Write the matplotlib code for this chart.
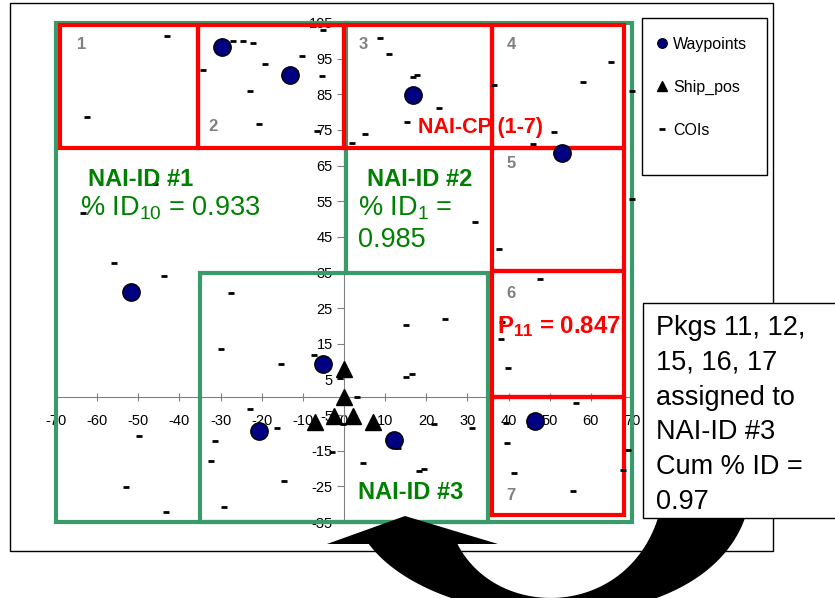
import numpy as np
import matplotlib
matplotlib.use('Agg')
import matplotlib.pyplot as plt
import matplotlib.transforms as mtransforms
from matplotlib.patches import Rectangle, Polygon
from matplotlib.lines import Line2D

plt.rcParams['font.family'] = ['Liberation Sans', 'DejaVu Sans']
plt.rcParams['axes.unicode_minus'] = False

# --- values ---
wp_x = [-29.7, -13.1, 16.8, 53.0, -51.8, -5.1, -20.7, 12.2, 46.4]
wp_y = [98.3, 90.4, 84.8, 68.5, 29.5, 9.3, -9.6, -12.1, -6.7]

ship_x = [0.0, 0.0, -2.4, 2.2, -7.0, 7.0]
ship_y = [7.9, 0.0, -5.3, -5.3, -7.0, -7.0]

coi_x = [-43.0, -62.5, -27.0, -24.6, -22.1, -34.3, -19.2, -10.2, -11.9, -22.8,
         -5.3, -5.1, -20.7, -6.6, 8.8, 10.9, 17.7, 16.8, 17.7, 23.1,
         15.3, 5.1, 1.9, 64.9, 58.1, 51.0, 45.9, 36.5, 70.0, -45.9,
         -63.4, -55.9, -43.8, 31.8, 37.7, 70.0, -52.7, -27.5, -29.9, -15.3,
         -7.3, -4.4, -22.8, 47.6, 15.1, 24.6, 38.4, 38.2, 39.9, 15.1,
         16.5, 3.2, 56.4, -16.3, -49.8, -31.4, -32.3, -53.0, -14.6, -43.3,
         -29.2, -2.9, 13.1, 4.6, 18.2, 19.4, 31.1, 21.9, 39.6, 41.3,
         55.7, 69.0, 67.8, 39.4, 45.2, -1.0, -0.2]
coi_y = [101.4, 78.7, 100.0, 100.0, 99.4, 91.9, 93.5, 95.8, 91.6, 86.0,
         90.2, 103.1, 76.7, 74.7, 100.8, 96.3, 90.4, 89.9, 84.8, 81.2,
         77.2, 73.9, 71.3, 94.1, 88.5, 74.4, 71.1, 87.6, 86.0, 59.8,
         51.7, 37.6, 34.0, 49.2, 41.6, 55.6, 28.9, 29.2, 13.5, 9.3,
         11.8, 8.7, -3.4, 33.1, 20.2, 21.9, 21.1, 16.3, 8.1, 5.6,
         6.5, 0.0, -1.7, -8.7, -11.0, -12.4, -18.0, -25.3, -23.6, -32.3,
         -30.9, -15.4, -14.3, -18.5, -20.8, -20.2, -8.7, -7.6, -12.9, -21.3,
         -26.4, -14.9, -20.5, -7.3, -8.1, 5.3, -7.6]

# NAI-ID regions (green) and NAI-CP cells (red), in data units
nai_id_boxes = [(-70, -35, 70, 105), (-35, -35, 35, 35)]
nai_cp_cells = [(-69, 70, -35.5, 104.5), (-35.5, 70, 0, 104.5), (0, 70, 36, 104.5),
                (36, 70, 68, 104.5), (36, 35.5, 68, 70), (36, 0, 68, 35.5),
                (36, -33, 68, 0)]
cell_labels = ['1', '2', '3', '4', '5', '6', '7']
cell_label_xy = [(-65, 99), (-33, 76), (3.5, 99), (39.5, 99), (39.5, 65.5), (39.5, 29), (39.5, -27.5)]

GREEN = '#3A9B6A'
TXT_GREEN = '#008000'
RED = '#FF0000'
NAVY = '#000080'

W, H = 835, 598
fig = plt.figure(figsize=(W / 100, H / 100), dpi=100)
# pixel coordinates (y downwards) for the decorations around the chart
pix = mtransforms.Affine2D().scale(1 / W, -1 / H).translate(0, 1) + fig.transFigure

ax = fig.add_axes([56 / W, 1 - 522 / H, (632 - 56) / W, (522 - 23) / H])
ax.patch.set_visible(False)
ax.set_xlim(-70, 70)
ax.set_ylim(-35, 105)
for s in ['top', 'right']:
    ax.spines[s].set_visible(False)
for s in ['left', 'bottom']:
    ax.spines[s].set_position(('data', 0))
    ax.spines[s].set_color('#808080')
ax.set_xticks(np.arange(-70, 71, 10))
ax.set_yticks(np.arange(-35, 106, 10))
ax.tick_params(axis='x', direction='inout', length=6, pad=9, color='#808080', labelsize=10.5)
ax.tick_params(axis='y', direction='out', length=5, pad=3, color='#808080', labelsize=10.5)

# region outlines
for x0, y0, x1, y1 in nai_id_boxes:
    ax.add_patch(Rectangle((x0, y0), x1 - x0, y1 - y0, fill=False, ec=GREEN, lw=3,
                           zorder=3, clip_on=False))
ax.plot([0.5, 0.5], [35, 105], color=GREEN, lw=3, zorder=3, clip_on=False)
for x0, y0, x1, y1 in nai_cp_cells:
    ax.add_patch(Rectangle((x0, y0), x1 - x0, y1 - y0, fill=False, ec=RED, lw=3,
                           zorder=3.2, clip_on=False))
for lab, (x, y) in zip(cell_labels, cell_label_xy):
    ax.text(x, y, lab, color='#808080', fontsize=12, fontweight='bold',
            ha='left', va='center', zorder=6)

# points
ax.plot(coi_x, coi_y, ls='none', marker='_', ms=4.5, mew=2, color='black', zorder=4, clip_on=False)
ax.plot(wp_x, wp_y, ls='none', marker='o', ms=12.5, mfc=NAVY, mec='black', mew=1, zorder=5)
ax.plot(ship_x, ship_y, ls='none', marker='^', ms=11, color='black', zorder=5)

# annotations
ax.text(18, 75.8, 'NAI-CP (1-7)', color=RED, fontsize=15.5, fontweight='bold', va='center', zorder=6)
ax.text(-62.2, 61.2, 'NAI-ID #1', color=TXT_GREEN, fontsize=17, fontweight='bold', va='center', zorder=6)
ax.text(-64.2, 51.1, r'% $\mathregular{ID_{10}}$ = 0.933', color=TXT_GREEN, fontsize=19.5, va='baseline', zorder=6)
ax.text(5.6, 61.2, 'NAI-ID #2', color=TXT_GREEN, fontsize=17, fontweight='bold', va='center', zorder=6)
ax.text(3.4, 51.1, r'% $\mathregular{ID_{1}}$ =', color=TXT_GREEN, fontsize=19.5, va='baseline', zorder=6)
ax.text(3.4, 42.1, '0.985', color=TXT_GREEN, fontsize=19.5, va='baseline', zorder=6)
ax.text(3.4, -26.7, 'NAI-ID #3', color=TXT_GREEN, fontsize=17, fontweight='bold', va='center', zorder=6)
ax.text(37.2, 18.0, r'$\mathregular{P_{11}}$ = 0.847', color=RED, fontsize=17.3, fontweight='bold',
        va='baseline', zorder=6)

# outer chart frame
fig.add_artist(Rectangle((10, 3), 763, 548, transform=pix, fill=False, ec='black', lw=1, zorder=-1))

# legend box
fig.add_artist(Rectangle((642, 18), 125, 157, transform=pix, fc='white', ec='black', lw=1, zorder=1))
handles = [Line2D([], [], ls='none', marker='o', ms=7, mfc=NAVY, mec='black', mew=0.8),
           Line2D([], [], ls='none', marker='^', ms=7.5, color='black'),
           Line2D([], [], ls='none', marker='_', ms=4.5, mew=2, color='black')]
fig.legend(handles, ['Waypoints', 'Ship_pos', 'COIs'], loc='upper left',
           bbox_to_anchor=(655 / W, 1 - 37 / H), frameon=False, fontsize=11.5,
           labelspacing=1.75, handlelength=0.9, handletextpad=0.25,
           borderpad=0, borderaxespad=0)


# curved arrow from the note back to NAI-ID #3 (outline in pixels)
def bezier(p, n=120):
    p = np.asarray(p, dtype=float)
    t = np.linspace(0, 1, n)[:, None]
    return ((1 - t) ** 3 * p[0] + 3 * (1 - t) ** 2 * t * p[1]
            + 3 * (1 - t) * t ** 2 * p[2] + t ** 3 * p[3])


inner = bezier([(457, 543), (495, 620), (625, 620), (658, 518)])
outer = bezier([(745, 518), (700, 645), (440, 640), (368, 543)])
body = np.vstack([inner, outer])
fig.add_artist(Polygon(body, closed=True, transform=pix, fc='black', ec='none', zorder=2))
fig.add_artist(Polygon([(327, 544), (498, 544), (405, 516)], closed=True, transform=pix,
                       fc='black', ec='none', zorder=2))

# note box
fig.add_artist(Rectangle((643, 303), 220, 215, transform=pix, fc='white', ec='black', lw=1, zorder=3))
fig.text(656, 315, 'Pkgs 11, 12,\n15, 16, 17\nassigned to\nNAI-ID #3\nCum % ID =\n0.97',
         transform=pix, ha='left', va='top', fontsize=19.5, linespacing=1.44, zorder=4)

fig.savefig('out.png', dpi=100)
